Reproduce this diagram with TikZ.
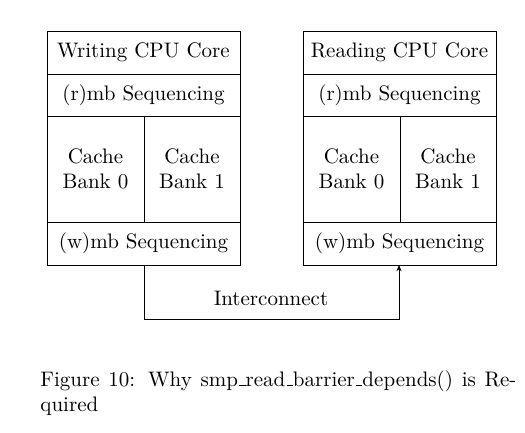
\documentclass[tikz,border=0pt]{standalone}
\usetikzlibrary{arrows.meta}
\newcommand\lowbar{\leavevmode\kern.06em\vbox{\hrule width.3em}}
\begin{document}
\begin{tikzpicture}[x=0.476pt,y=-0.476pt,
  cell/.style={draw,inner sep=0pt,outer sep=0pt,align=center,font=\normalsize},
  link/.style={draw,-{Stealth[length=3pt,width=2.5pt]}}]
\useasboundingbox (0,0) rectangle (525,433);
% Writing CPU
\node[cell,minimum width={193*0.476pt},minimum height={43*0.476pt}] (wtitle) at (143.5,52.5) {Writing CPU Core};
\node[cell,minimum width={193*0.476pt},minimum height={42*0.476pt}] (wrmb) at (143.5,95) {(r)mb Sequencing};
\node[cell,minimum width={97*0.476pt},minimum height={106*0.476pt}] (wc0) at (95.5,169) {Cache\\Bank 0};
\node[cell,minimum width={96*0.476pt},minimum height={106*0.476pt}] (wc1) at (192,169) {Cache\\Bank 1};
\node[cell,minimum width={193*0.476pt},minimum height={43*0.476pt}] (wwmb) at (143.5,243.5) {(w)mb Sequencing};
% Reading CPU
\node[cell,minimum width={193*0.476pt},minimum height={43*0.476pt}] (rtitle) at (399.5,52.5) {Reading CPU Core};
\node[cell,minimum width={193*0.476pt},minimum height={42*0.476pt}] (rrmb) at (399.5,95) {(r)mb Sequencing};
\node[cell,minimum width={97*0.476pt},minimum height={106*0.476pt}] (rc0) at (351.5,169) {Cache\\Bank 0};
\node[cell,minimum width={96*0.476pt},minimum height={106*0.476pt}] (rc1) at (448,169) {Cache\\Bank 1};
\node[cell,minimum width={193*0.476pt},minimum height={43*0.476pt}] (rwmb) at (399.5,243.5) {(w)mb Sequencing};
% Interconnect
\coordinate (ws) at (144,265);
\coordinate (rs) at (399,265);
\path[link] (ws) -- ++(0,54) -| (rs);
\node (ic) at (271,298) {Interconnect};
% Caption
\node[anchor=north west,inner sep=0pt,text width={476*0.476pt},align=justify] (cap) at (40,370)
  {Figure 10: Why smp\lowbar read\lowbar barrier\lowbar depends() is Re-\linebreak quired};
\end{tikzpicture}
\end{document}
